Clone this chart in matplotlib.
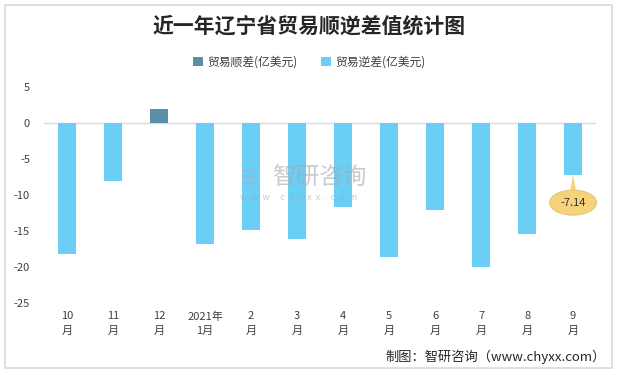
import numpy as np
import matplotlib
matplotlib.use("Agg")
import matplotlib.pyplot as plt
from matplotlib.patches import Rectangle

plt.rcParams['font.family'] = ['Noto Sans CJK SC', 'DejaVu Sans']

# data (亿美元)
months = ["10\n月", "11\n月", "12\n月", "2021年\n1月", "2\n月", "3\n月",
          "4\n月", "5\n月", "6\n月", "7\n月", "8\n月", "9\n月"]
surplus = [np.nan, np.nan, 1.9, np.nan, np.nan, np.nan,
           np.nan, np.nan, np.nan, np.nan, np.nan, np.nan]
deficit = [-18.2, -8.1, np.nan, -16.8, -14.8, -16.1,
           -11.6, -18.6, -12.0, -20.0, -15.4, -7.14]
y_ticks = [5, 0, -5, -10, -15, -20, -25]

c_surplus = "#5B8FA8"
c_deficit = "#6BCEF5"

fig = plt.figure(figsize=(6.19, 3.71), dpi=100)
ax = fig.add_axes([0.071, 0.183, 0.892, 0.582])

x = np.arange(len(months))
ax.bar(x, surplus, width=0.39, color=c_surplus, label="贸易顺差(亿美元)", zorder=2)
ax.bar(x, deficit, width=0.39, color=c_deficit, label="贸易逆差(亿美元)", zorder=2)

ax.set_xlim(-0.5, len(months) - 0.5)
ax.set_ylim(-25, 5)
ax.set_yticks(y_ticks)
ax.set_yticklabels([str(v) for v in y_ticks])
ax.set_xticks(x)
ax.set_xticklabels(months, linespacing=1.5)
ax.tick_params(axis="both", length=0, labelsize=8, colors="#404040")
ax.tick_params(axis="x", pad=6)
ax.tick_params(axis="y", pad=10)
for s in ax.spines.values():
    s.set_visible(False)
ax.axhline(0, color="#D9D9D9", lw=1, zorder=1)

# callout for the last month
ax.annotate(f"{deficit[-1]:.2f}", xy=(x[-1], deficit[-1]), xytext=(x[-1], deficit[-1] - 3.9),
            ha="center", va="center", fontsize=8, color="#333333",
            bbox=dict(boxstyle="ellipse,pad=0.35", fc="#F6D27B", ec="#E0C070", lw=0.6),
            arrowprops=dict(arrowstyle="wedge,tail_width=0.5", fc="#F6D27B", ec="none",
                            shrinkA=0, shrinkB=0))

# watermark
fig.text(0.387, 0.52, "\u2630", fontsize=15, color="#9DB8CC", alpha=0.6,
         ha="left", va="center")
fig.text(0.44, 0.52, "智研咨询", fontsize=17, color="#A8A8A8", alpha=0.6,
         ha="left", va="center")
fig.text(0.388, 0.468, "w  w  w  .  c  h  y  x  x  .  c  o  m", fontsize=6.5,
         color="#A8A8A8", alpha=0.6, ha="left", va="center")

fig.text(0.5, 0.93, "近一年辽宁省贸易顺逆差值统计图", fontsize=15, fontweight="bold",
         color="#262626", ha="center", va="center")
fig.legend(loc="center", bbox_to_anchor=(0.5, 0.833), ncol=2, frameon=False,
           fontsize=8.5, handlelength=0.8, handleheight=0.8, handletextpad=0.4,
           columnspacing=2.0, labelcolor="#404040")
fig.text(0.978, 0.038, "制图：智研咨询（www.chyxx.com）", fontsize=9.5,
         color="#262626", ha="right", va="center")

fig.patches.append(Rectangle((0.008, 0.008), 0.98, 0.978, transform=fig.transFigure,
                             fill=False, ec="#D9D9D9", lw=1.2))

fig.savefig("out.png", dpi=100)
